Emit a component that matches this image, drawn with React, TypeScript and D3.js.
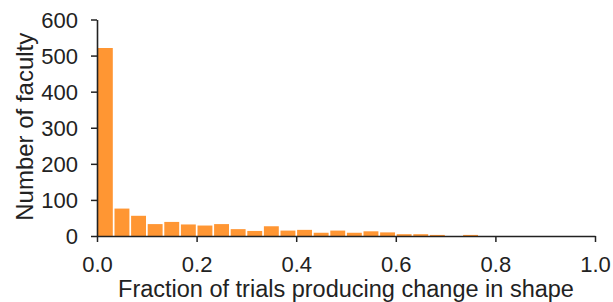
import * as d3 from 'd3';
import { useEffect, useRef } from 'react';

// counts per bin, 30 bins of width 1/30 from 0 to 1
const binCounts = [521, 76, 56, 33, 39, 32, 29, 33, 19, 14, 27, 15, 17, 9, 15, 9, 13, 10, 5, 5, 3, 0, 3, 0, 0, 0, 0, 0, 0, 0];
const xTicks = [0, 0.2, 0.4, 0.6, 0.8, 1.0];
const yTicks = [0, 100, 200, 300, 400, 500, 600];
const xLabel = 'Fraction of trials producing change in shape';
const yLabel = 'Number of faculty';

const App = () => {
  const ref = useRef<SVGSVGElement>(null);
  const width = 613;
  const height = 302;
  const margin = { top: 19.5, right: 18, bottom: 66, left: 97 };

  useEffect(() => {
    if (!ref.current) return;
    const svg = d3.select(ref.current);
    svg.selectAll('*').remove();

    const x = d3.scaleLinear().domain([0, 1]).range([margin.left, width - margin.right]);
    const y = d3.scaleLinear().domain([0, 600]).range([height - margin.bottom, margin.top]);
    const binW = 1 / binCounts.length;
    const font = 'Liberation Sans, Arial, Helvetica, sans-serif';
    const ink = '#222';

    // bars
    svg.append('g')
      .selectAll('rect')
      .data(binCounts)
      .enter()
      .append('rect')
      .attr('x', (d, i) => x(i * binW) + 0.9)
      .attr('y', d => y(d))
      .attr('width', (d, i) => x((i + 1) * binW) - x(i * binW) - 1.7)
      .attr('height', d => y(0) - y(d))
      .style('fill', '#FF9633');

    // axes
    const xAxis = d3.axisBottom(x).tickValues(xTicks).tickFormat(d3.format('.1f')).tickSize(6).tickSizeOuter(0);
    const gx = svg.append('g')
      .attr('transform', `translate(0, ${y(0)})`)
      .call(xAxis);
    const yAxis = d3.axisLeft(y).tickValues(yTicks).tickSize(6).tickSizeOuter(0);
    const gy = svg.append('g')
      .attr('transform', `translate(${margin.left}, 0)`)
      .call(yAxis);

    [gx, gy].forEach(g => {
      g.select('.domain').attr('stroke', ink).attr('stroke-width', 1.6);
      g.selectAll('.tick line').attr('stroke', ink).attr('stroke-width', 1.5);
      g.selectAll('.tick text')
        .attr('fill', ink)
        .style('font-family', font)
        .style('font-size', '22px');
    });
    gx.selectAll('.tick text').attr('y', 20).attr('dy', '0.71em');
    gy.selectAll('.tick text').attr('x', -19).attr('dy', '0.35em');

    // axis titles
    svg.append('text')
      .attr('x', (margin.left + width - margin.right) / 2)
      .attr('y', 297)
      .attr('text-anchor', 'middle')
      .style('font-family', font)
      .style('font-size', '23.5px')
      .attr('fill', ink)
      .text(xLabel);

    svg.append('text')
      .attr('transform', `translate(33, ${(margin.top + height - margin.bottom) / 2 - 1}) rotate(-90)`)
      .attr('text-anchor', 'middle')
      .style('font-family', font)
      .style('font-size', '24px')
      .attr('fill', ink)
      .text(yLabel);
  }, []);

  return (
    <svg ref={ref} width={width} height={height}
      style={{ position: 'absolute', left: 0, top: 0, background: '#fff' }}></svg>
  );
};

export default App;
